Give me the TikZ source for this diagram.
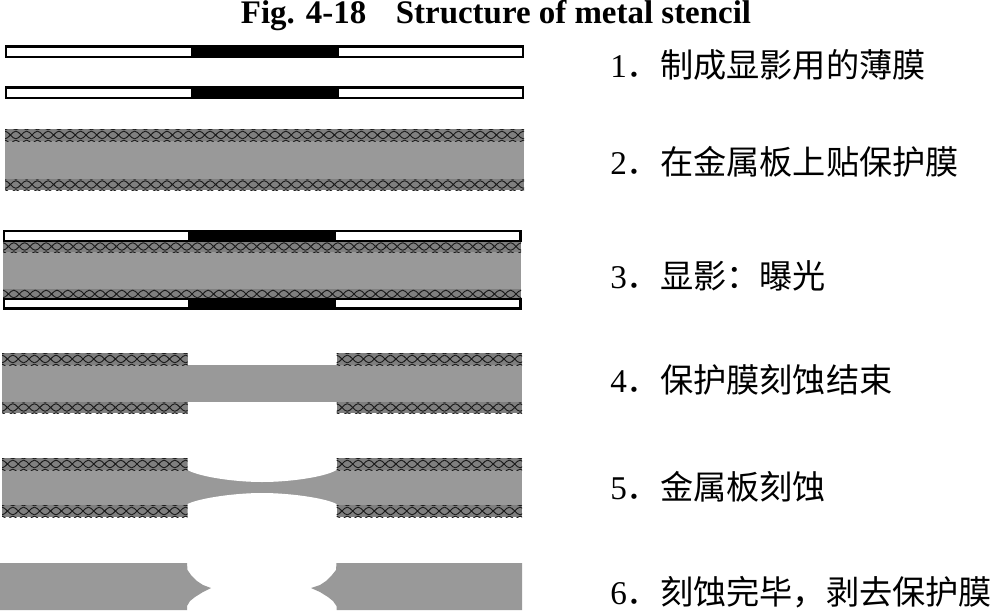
\documentclass[tikz,border=0pt]{standalone}
\usepackage{fontspec}
\setmainfont{Liberation Serif}
\newfontfamily\cjkf{Noto Sans CJK SC}
\definecolor{metal}{HTML}{999999}
\definecolor{hatchbg}{HTML}{7F7F7F}
\definecolor{hatchln}{HTML}{1A1A1A}
\newcommand{\hatchband}[4]{% x1,x2,y1,y2
  \begin{scope}
    \clip (#1,#3) rectangle (#2,#4);
    \fill[hatchbg] (#1,#3) rectangle (#2,#4);
    \pgfmathsetmacro{\ymid}{(#3+#4)/2}
    \foreach \off in {-9,0,9}{
      \foreach \k in {0,...,48}{
        \pgfmathsetmacro{\xa}{#1+\k*10.8}
        \draw[hatchln,line width=0.7pt]
          (\xa,\ymid+\off-3.8) .. controls (\xa+3.6,\ymid+\off-3.8) and (\xa+7.2,\ymid+\off+3.8) .. (\xa+10.8,\ymid+\off+3.8)
          (\xa,\ymid+\off+3.8) .. controls (\xa+3.6,\ymid+\off+3.8) and (\xa+7.2,\ymid+\off-3.8) .. (\xa+10.8,\ymid+\off-3.8);
      }
    }
  \end{scope}
}
\newcommand{\filmbar}[5]{% x1,x2,y1,y2, black start (width 148)
  \draw[black,fill=white,line width=2pt] (#1,#3) rectangle (#2,#4);
  \fill[black] (#5,#3-1) rectangle (#5+148.5,#4+1);
}
\tikzset{
  lbl/.style={anchor=base west,inner sep=0pt,font=\fontsize{24.9pt}{26pt}\selectfont},
  ttl/.style={anchor=base,inner sep=0pt,font=\fontsize{24.7pt}{26pt}\selectfont\bfseries}
}
\begin{document}
\begin{tikzpicture}[x=0.75pt,y=-0.75pt]
\useasboundingbox (0,0) rectangle (991,610);
\fill[white] (0,0) rectangle (991,610);
\node[ttl] (title) at (496,24) {Fig. 4-18\hspace{0.9em}Structure of metal stencil};

% step 1
\filmbar{6}{523}{46.5}{57}{190.5}
\filmbar{6}{523}{87.5}{98}{190.5}
% step 2
\fill[metal] (5,129) rectangle (524,190);
\hatchband{5}{524}{129}{141}
\hatchband{5}{524}{179}{190}
% step 3
\fill[metal] (3,241) rectangle (521,299);
\hatchband{3}{521}{241}{252}
\hatchband{3}{521}{289}{299}
\filmbar{4}{520.5}{231}{241}{187.5}
\filmbar{4}{520.5}{299}{308.5}{187.5}
% step 4
\fill[metal] (2,353) rectangle (522,413);
\fill[white] (187.5,353) rectangle (336.5,365);
\fill[white] (187.5,402) rectangle (336.5,413);
\hatchband{2}{187.5}{353}{365}
\hatchband{336.5}{522}{353}{365}
\hatchband{2}{187.5}{402}{413}
\hatchband{336.5}{522}{402}{413}
% step 5
\fill[metal] (2,470) rectangle (522,505);
\fill[white] (187.5,469) -- (187.5,470) .. controls (200,477) and (235,482) .. (262,482)
  .. controls (290,482) and (325,477) .. (336.5,470) -- (336.5,469) -- cycle;
\fill[white] (187.5,506) -- (187.5,504) .. controls (200,498) and (235,493) .. (262,493)
  .. controls (290,493) and (325,498) .. (336.5,504) -- (336.5,506) -- cycle;
\hatchband{2}{187.5}{458}{470}
\hatchband{336.5}{522}{458}{470}
\hatchband{2}{187.5}{505}{517}
\hatchband{336.5}{522}{505}{517}
% step 6
\fill[metal] (0,563) -- (187,563) -- (187.5,570) -- (191,575) -- (197,581) -- (203,585) -- (211,588)
  -- (203,592) -- (195,597) -- (190,601) -- (187,606) -- (187,610) -- (0,610) -- cycle;
\fill[metal] (522,563) -- (336.5,563) -- (336,570) -- (332,575) -- (326,581) -- (320,585) -- (311,588)
  -- (320,592) -- (328,597) -- (333,601) -- (336.5,606) -- (336.5,610) -- (522,610) -- cycle;

% labels
\node[lbl] (s1) at (610,78) {1{\cjkf．制成显影用的薄膜}};
\node[lbl] (s2) at (610,174) {2{\cjkf．在金属板上贴保护膜}};
\node[lbl] (s3) at (610,288) {3{\cjkf．显影：曝光}};
\node[lbl] (s4) at (610,392) {4{\cjkf．保护膜刻蚀结束}};
\node[lbl] (s5) at (610,499) {5{\cjkf．金属板刻蚀}};
\node[lbl] (s6) at (610,604) {6{\cjkf．刻蚀完毕，剥去保护膜}};
\end{tikzpicture}
\end{document}
